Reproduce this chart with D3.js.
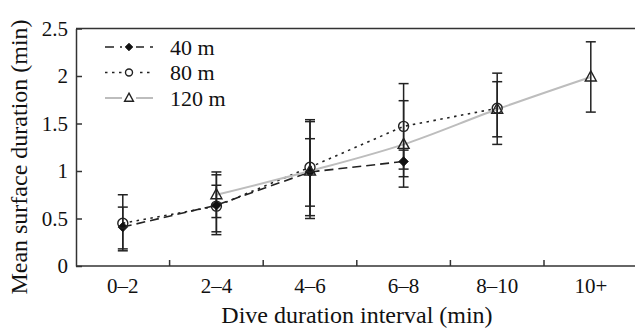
<!DOCTYPE html>
<html>
<head>
<meta charset="utf-8">
<title>Mean surface duration</title>
<script src="https://d3js.org/d3.v7.min.js"></script>
<style>
  body { margin: 0; background: #fff; }
  svg text { font-family: "Liberation Serif", "Times New Roman", serif; fill: #111; }
  .axis path, .axis line { stroke: #333; stroke-width: 1.5; }
</style>
</head>
<body>
<div id="chart"></div>
<script>
// data
var categories = ["0–2", "2–4", "4–6", "6–8", "8–10", "10+"];

var mean40 = [0.41, 0.64, 0.99, 1.10, null, null];
var lo40   = [0.16, 0.33, 0.50, 0.94, null, null];
var hi40   = [0.62, 0.96, 1.52, 1.22, null, null];

var mean80 = [0.45, 0.63, 1.04, 1.47, 1.66, null];
var lo80   = [0.18, 0.36, 0.53, 1.02, 1.28, null];
var hi80   = [0.75, 0.99, 1.54, 1.92, 2.03, null];

var mean120 = [null, 0.75, 1.00, 1.28, 1.65, 1.99];
var lo120   = [null, 0.51, 0.63, 0.83, 1.36, 1.62];
var hi120   = [null, 0.85, 1.34, 1.74, 1.94, 2.36];

var yTicks = [0, 0.5, 1, 1.5, 2, 2.5];
var seriesNames = ["40 m", "80 m", "120 m"];

var width = 635, height = 332;
var plotLeft = 76, plotTop = 28.5, plotBottom = 266;
var plotRight = plotLeft + 6 * 93.6;

var svg = d3.select("#chart").append("svg")
    .attr("width", width)
    .attr("height", height);

var x = d3.scaleBand().domain(categories).range([plotLeft, plotRight]);
var y = d3.scaleLinear().domain([0, 2.5]).range([plotBottom, plotTop]);

// frame top line
svg.append("line")
    .attr("x1", plotLeft).attr("x2", width)
    .attr("y1", plotTop).attr("y2", plotTop)
    .attr("stroke", "#333").attr("stroke-width", 1.5);

// y axis
svg.append("g")
    .attr("class", "axis")
    .attr("transform", "translate(" + plotLeft + ",0)")
    .call(d3.axisLeft(y).tickValues(yTicks).tickSizeInner(-6).tickSizeOuter(0)
        .tickPadding(8).tickFormat(function(d) { return String(d); }))
    .call(function(g) { g.selectAll("text").style("font-size", "21px").attr("font-family", null); });

// x axis
var xAxisG = svg.append("g")
    .attr("class", "axis")
    .attr("transform", "translate(0," + plotBottom + ")")
    .call(d3.axisBottom(x).tickSize(0).tickSizeOuter(0).tickPadding(12));
xAxisG.select(".domain").attr("d", "M" + plotLeft + ",0H" + width);
xAxisG.selectAll("text").style("font-size", "21px").attr("font-family", null);

// boundary ticks between categories
xAxisG.selectAll(".bound")
    .data(categories.slice(1))
    .enter().append("line")
    .attr("class", "bound")
    .attr("x1", function(d) { return x(d); })
    .attr("x2", function(d) { return x(d); })
    .attr("y1", 0).attr("y2", -6);

// axis titles
svg.append("text")
    .attr("x", 357)
    .attr("y", 323)
    .attr("text-anchor", "middle")
    .style("font-size", "24px")
    .text("Dive duration interval (min)");

svg.append("text")
    .attr("transform", "translate(27,157) rotate(-90)")
    .attr("text-anchor", "middle")
    .style("font-size", "24px")
    .text("Mean surface duration (min)");

function pts(means, los, his) {
  var out = [];
  means.forEach(function(m, i) {
    if (m !== null) out.push({ c: categories[i], m: m, lo: los[i], hi: his[i] });
  });
  return out;
}

var series = [
  { name: seriesNames[0], data: pts(mean40, lo40, hi40), color: "#222", width: 1.6, dash: "9,5", marker: "diamond", curve: d3.curveLinear },
  { name: seriesNames[1], data: pts(mean80, lo80, hi80), color: "#222", width: 1.6, dash: "2.5,4.5", marker: "circle", curve: d3.curveLinear },
  { name: seriesNames[2], data: pts(mean120, lo120, hi120), color: "#bdbdbd", width: 2, dash: null, marker: "triangle", curve: d3.curveMonotoneX }
];

var cx = function(d) { return x(d.c) + x.bandwidth() / 2; };

// lines
series.forEach(function(s) {
  var line = d3.line().x(cx).y(function(d) { return y(d.m); }).curve(s.curve);
  svg.append("path")
      .datum(s.data)
      .attr("d", line)
      .attr("fill", "none")
      .attr("stroke", s.color)
      .attr("stroke-width", s.width)
      .attr("stroke-dasharray", s.dash);
});

// error bars
series.forEach(function(s) {
  var g = svg.append("g").attr("stroke", "#222").attr("stroke-width", 1.5);
  g.selectAll(".v").data(s.data).enter().append("line")
      .attr("x1", cx).attr("x2", cx)
      .attr("y1", function(d) { return y(d.lo); })
      .attr("y2", function(d) { return y(d.hi); });
  ["lo", "hi"].forEach(function(k) {
    g.selectAll(".c" + k).data(s.data).enter().append("line")
        .attr("x1", function(d) { return cx(d) - 5; })
        .attr("x2", function(d) { return cx(d) + 5; })
        .attr("y1", function(d) { return y(d[k]); })
        .attr("y2", function(d) { return y(d[k]); });
  });
});

function drawMarker(g, type, px, py, scale) {
  if (type === "diamond") {
    var r = 4.8 * scale;
    g.append("path")
        .attr("d", "M" + px + "," + (py - r) + "L" + (px + r) + "," + py + "L" + px + "," + (py + r) + "L" + (px - r) + "," + py + "Z")
        .attr("fill", "#111").attr("stroke", "#111").attr("stroke-width", 0.8);
  } else if (type === "circle") {
    g.append("circle")
        .attr("cx", px).attr("cy", py).attr("r", 5 * scale)
        .attr("fill", "none").attr("stroke", "#222").attr("stroke-width", 1.4);
  } else {
    var h = 10 * scale, w = 5.5 * scale;
    g.append("path")
        .attr("d", "M" + px + "," + (py - h * 0.6) + "L" + (px + w) + "," + (py + h * 0.4) + "L" + (px - w) + "," + (py + h * 0.4) + "Z")
        .attr("fill", "none").attr("stroke", "#222").attr("stroke-width", 1.4);
  }
}

// markers
series.forEach(function(s) {
  var g = svg.append("g");
  s.data.forEach(function(d) { drawMarker(g, s.marker, cx(d), y(d.m), 1); });
});

// legend
var legend = svg.append("g");
series.forEach(function(s, i) {
  var ly = 47 + i * 25.5;
  legend.append("line")
      .attr("x1", 105).attr("x2", 153)
      .attr("y1", ly).attr("y2", ly)
      .attr("stroke", s.color)
      .attr("stroke-width", s.width)
      .attr("stroke-dasharray", s.dash === "9,5" ? "9,6" : s.dash);
  legend.append("rect")
      .attr("x", 122).attr("y", ly - 6).attr("width", 14).attr("height", 12)
      .attr("fill", "#fff");
  drawMarker(legend, s.marker, 129, ly, s.marker === "circle" ? 0.7 : 0.8);
  legend.append("text")
      .attr("x", 170).attr("y", ly)
      .attr("dy", "0.35em")
      .style("font-size", "22px")
      .text(s.name);
});
</script>
</body>
</html>
